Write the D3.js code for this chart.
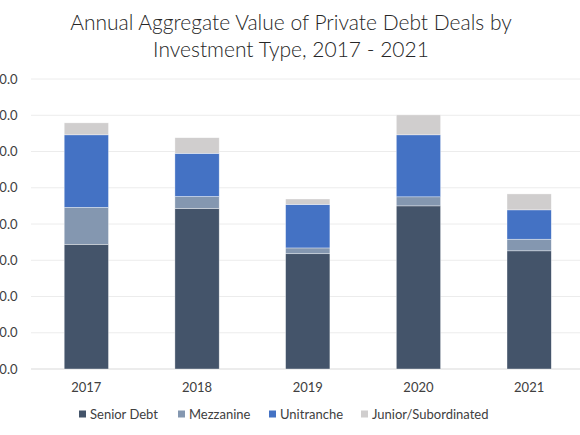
<!DOCTYPE html>
<html><head><meta charset="utf-8">
<script src="https://cdn.jsdelivr.net/npm/d3@7"></script>
<style>
html,body{margin:0;padding:0;background:#fff;overflow:hidden;}
svg{display:block;font-family:Lato,"Open Sans",sans-serif;}
</style></head>
<body>
<svg id="chart" width="580" height="435"></svg>
<script>
const years = ["2017","2018","2019","2020","2021"];
const seriesNames = ["Senior Debt","Mezzanine","Unitranche","Junior/Subordinated"];
const seniorDebt = [34.4, 44.3, 31.8, 45.0, 32.6];
const mezzanine = [10.2, 3.3, 1.6, 2.5, 3.2];
const unitranche = [20.0, 11.9, 12.0, 17.1, 8.1];
const juniorSub = [3.3, 4.3, 1.5, 5.5, 4.4];
const yTicks = [0,10,20,30,40,50,60,70,80];
const colors = ["#44546A","#8497B0","#4472C4","#D0CECE"];

const svg = d3.select("#chart");
const plotLeft = 31, plotRight = 584.5, plotTop = 79, plotBottom = 369;

const rows = years.map((yr,i)=>({year:yr,"Senior Debt":seniorDebt[i],"Mezzanine":mezzanine[i],"Unitranche":unitranche[i],"Junior/Subordinated":juniorSub[i]}));
const stacked = d3.stack().keys(seriesNames)(rows);

const x = d3.scaleBand().domain(years).range([plotLeft,plotRight]).paddingInner(0.6).paddingOuter(0.3);
const y = d3.scaleLinear().domain([0,80]).range([plotBottom,plotTop]);

// gridlines
svg.append("g").selectAll("line").data(yTicks).join("line")
  .attr("x1",plotLeft).attr("x2",580)
  .attr("y1",d=>y(d)).attr("y2",d=>y(d))
  .attr("stroke",d=>d===0?"#d9d9d9":"#ececec").attr("stroke-width",1);

// y labels (leading digits fall off the left edge, as in the reference)
svg.append("g").selectAll("text").data(yTicks).join("text")
  .attr("x",17.5).attr("y",d=>y(d)).attr("dy","0.35em")
  .attr("text-anchor","end").attr("font-size",13).attr("fill","#404040")
  .text(d=>d3.format(".1f")(d));

// bars
svg.append("g").selectAll("g").data(stacked).join("g")
  .attr("fill",(d,i)=>colors[i])
  .selectAll("rect").data(d=>d).join("rect")
  .attr("x",d=>x(d.data.year)).attr("width",x.bandwidth())
  .attr("y",d=>y(d[1])).attr("height",d=>y(d[0])-y(d[1]))
  .attr("stroke","#ffffff").attr("stroke-width",0.6).attr("stroke-opacity",0.6);

// x labels
svg.append("g").selectAll("text").data(years).join("text")
  .attr("x",d=>x(d)+x.bandwidth()/2).attr("y",387).attr("dy","0.35em")
  .attr("text-anchor","middle").attr("font-size",13).attr("fill","#404040")
  .text(d=>d);

// title
const title = svg.append("text").attr("text-anchor","middle").attr("fill","#262626")
  .attr("font-size",21).attr("font-weight",300);
title.append("tspan").attr("x",291).attr("y",30).text("Annual Aggregate Value of Private Debt Deals by");
title.append("tspan").attr("x",291).attr("y",57).text("Investment Type, 2017 - 2021");

// legend
const legendX = [79, 178, 269, 361];
const lg = svg.append("g").selectAll("g").data(seriesNames).join("g")
  .attr("transform",(d,i)=>`translate(${legendX[i]},414)`);
lg.append("rect").attr("x",0).attr("y",-3.5).attr("width",7).attr("height",7).attr("fill",(d,i)=>colors[i]);
lg.append("text").attr("x",11).attr("y",0).attr("dy","0.35em").attr("font-size",13).attr("fill","#404040").text(d=>d);
</script>
</body></html>
